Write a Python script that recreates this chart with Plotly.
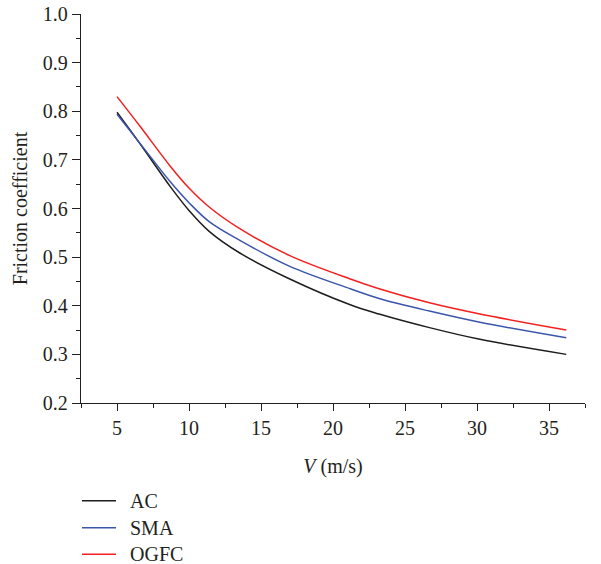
import plotly.graph_objects as go

# Sliding speed (m/s) and friction coefficient for each pavement surface
speed_ac = [5, 6.6, 8.7, 10, 11.4, 13.5, 17, 21.2, 23.2, 26.7, 30.2, 36.2]
friction_ac = [0.798, 0.733, 0.645, 0.596, 0.553, 0.509, 0.455, 0.402, 0.383, 0.355, 0.331, 0.300]

speed_sma = [5, 6.6, 8.7, 10, 11.4, 13.5, 17, 21.2, 23.2, 26.7, 30.2, 36.2]
friction_sma = [0.794, 0.734, 0.655, 0.612, 0.573, 0.535, 0.481, 0.435, 0.415, 0.389, 0.366, 0.334]

speed_ogfc = [5, 6.6, 8.7, 10, 11.4, 13.5, 17, 21.2, 23.2, 26.7, 30.2, 36.2]
friction_ogfc = [0.830, 0.769, 0.687, 0.642, 0.603, 0.559, 0.503, 0.455, 0.435, 0.406, 0.383, 0.350]

series_names = ["AC", "SMA", "OGFC"]
series_colors = ["#1e1e1e", "#3b55aa", "#f42020"]

FONT = "Liberation Serif, Times New Roman, serif"
TEXT = "#231f20"
FS = 20

# Figure / plot-area geometry (pixels)
W, H = 601, 564
ML, MR, MT, MB = 81, 16, 14, 161
PW, PH = W - ML - MR, H - MT - MB


def px_x(px):
    return (px - ML) / PW


def px_y(py):
    return (H - MB - py) / PH


fig = go.Figure()
for name, xs, ys, color in zip(
    series_names,
    [speed_ac, speed_sma, speed_ogfc],
    [friction_ac, friction_sma, friction_ogfc],
    series_colors,
):
    fig.add_trace(go.Scatter(
        x=xs, y=ys, name=name, mode="lines",
        line=dict(color=color, width=1.5, shape="spline", smoothing=1.0),
        showlegend=False,
    ))

axis_common = dict(
    showgrid=False, zeroline=False, showline=True, automargin=False,
    linecolor="#231f20", linewidth=1.3,
    ticks="outside", tickcolor="#231f20", tickwidth=1.3,
    tickfont=dict(family=FONT, size=FS, color=TEXT),
)

fig.update_xaxes(
    range=[2.5, 37.5], tick0=5, dtick=5, ticklen=7,
    minor=dict(dtick=2.5, tick0=2.5, ticks="outside", ticklen=4,
               tickcolor="#231f20", tickwidth=1.3),
    title=dict(text="<i>V</i> (m/s)", font=dict(family=FONT, size=FS, color=TEXT),
               standoff=20),
    **axis_common,
)
fig.update_yaxes(
    range=[0.2, 1.0], tick0=0.2, dtick=0.1, tickformat=".1f", ticklen=8,
    minor=dict(dtick=0.05, tick0=0.2, ticks="outside", ticklen=4,
               tickcolor="#231f20", tickwidth=1.3),
    title=dict(text="Friction coefficient", font=dict(family=FONT, size=FS, color=TEXT),
               standoff=9),
    **axis_common,
)

# Legend below the axes: short line sample followed by the series name
legend_rows = [500.7, 527.7, 554.3]
shapes, annotations = [], []
for name, color, row in zip(series_names, series_colors, legend_rows):
    shapes.append(dict(
        type="line", xref="paper", yref="paper",
        x0=px_x(82), x1=px_x(116), y0=px_y(row), y1=px_y(row),
        line=dict(color=color, width=1.5),
    ))
    annotations.append(dict(
        xref="paper", yref="paper", x=px_x(128), y=px_y(row),
        xanchor="left", yanchor="middle", showarrow=False,
        text=name, font=dict(family=FONT, size=FS, color=TEXT),
    ))

fig.update_layout(
    width=W, height=H,
    margin=dict(l=ML, r=MR, t=MT, b=MB),
    plot_bgcolor="white", paper_bgcolor="white",
    showlegend=False,
    shapes=shapes, annotations=annotations,
)

fig.write_html("out.html")
